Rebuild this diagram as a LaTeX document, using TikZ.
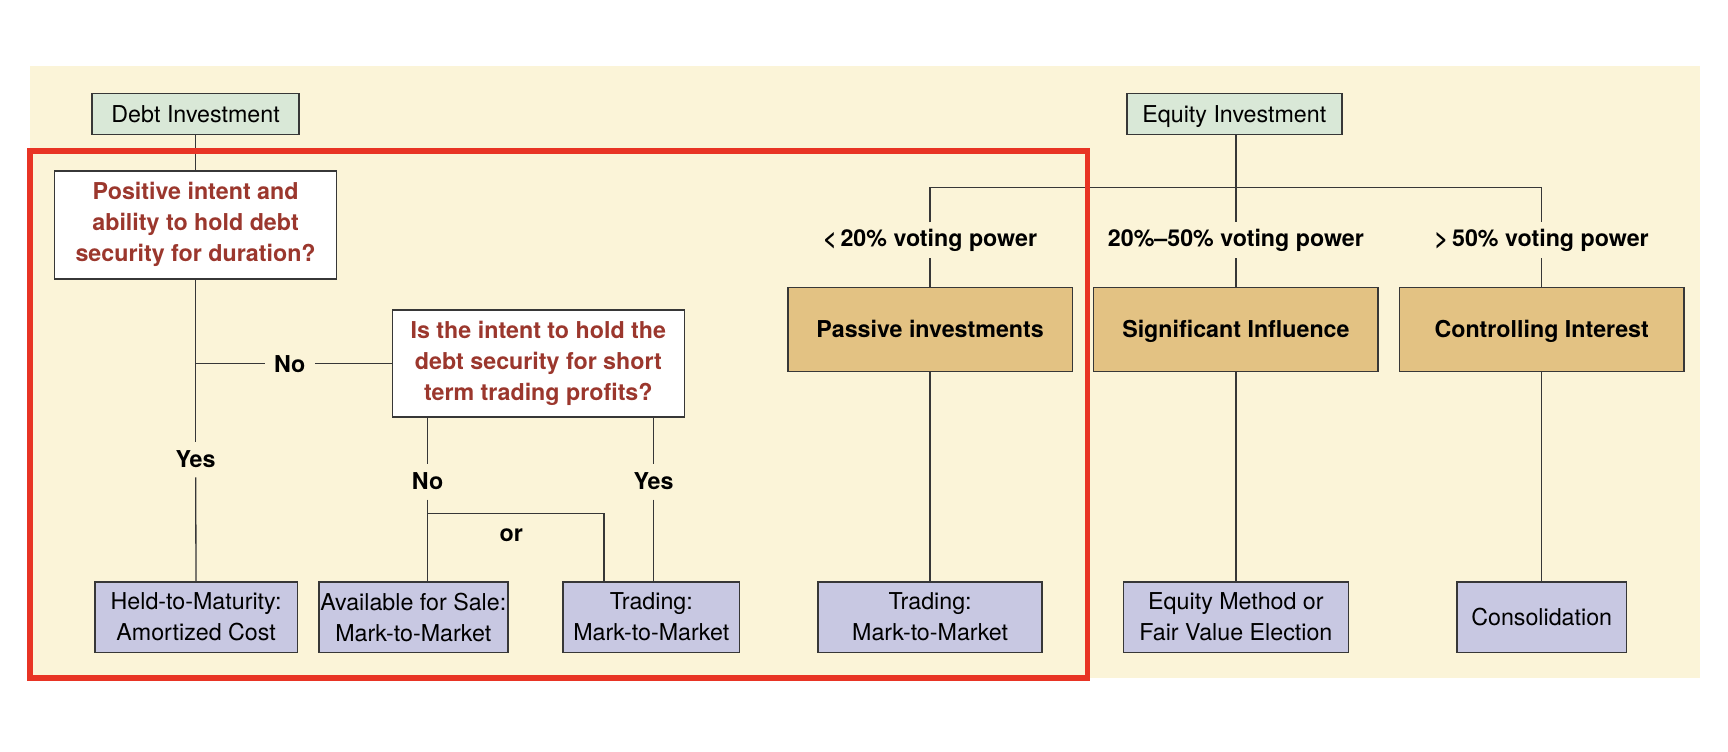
\documentclass[tikz,border=0pt]{standalone}
\usepackage{fontspec}
\setmainfont{TeX Gyre Heros}
\usetikzlibrary{positioning}
\definecolor{colBg}{RGB}{251,244,216}
\definecolor{colStart}{RGB}{217,232,215}
\definecolor{colCat}{RGB}{227,194,131}
\definecolor{colOut}{RGB}{200,200,226}
\definecolor{colQuest}{RGB}{155,55,45}
\definecolor{colFrame}{RGB}{232,52,36}
\definecolor{colEdge}{RGB}{55,55,55}
\newcommand{\boxfont}{\fontsize{15}{20}\selectfont}

\begin{document}
\begin{tikzpicture}[
            x=0.025cm, y=-0.025cm,
            font=\boxfont,
            box/.style={rectangle, draw=colEdge, line width=1pt, align=center, inner xsep=1pt, inner ysep=0pt},
            start/.style={box, fill=colStart, minimum height=0.925cm, text height=12pt, text depth=1.5pt},
            quest/.style={box, fill=white, text=colQuest, font=\boxfont\bfseries},
            cat/.style={box, fill=colCat, font=\boxfont\bfseries, minimum width=6.45cm, minimum height=1.9cm, text height=12pt, text depth=1.5pt},
            outcome/.style={box, fill=colOut, minimum height=1.6cm},
            lbl/.style={font=\boxfont\bfseries, inner sep=0pt, minimum height=0.8cm},
            link/.style={draw=colEdge, line width=0.85pt}
        ]

        \useasboundingbox (0,0) rectangle (1568,682);
        \fill[colBg] (27,60) rectangle (1543,615);

        %% ── DEBT : questions ─────────────────────────────
        \node[start, minimum width=4.7cm] (debt) at (177.5,103.5) {Debt Investment};
        \node[quest, minimum width=6.4cm, minimum height=2.45cm] (q1) at (177.5,204)
            {Positive intent and\\ability to hold debt\\security for duration?};
        \node[quest, minimum width=6.625cm, minimum height=2.425cm] (q2) at (488.5,330)
            {Is the intent to hold the\\debt security for short\\term trading profits?};

        \node[lbl, minimum width=1.12cm] (no1) at (263,330) {No};
        \coordinate (split) at (q1 |- no1);
        \node[lbl] (yes1) at (177.5,417) {Yes};
        \node[lbl] (no2) at (388,437) {No};
        \node[lbl] (yes2) at (593,437) {Yes};
        \node[lbl] (or) at (464,486) {or};

        %% ── DEBT : outcomes ──────────────────────────────
        \node[outcome, minimum width=4.6cm] (htm) at (178,560) {Held-to-Maturity:\\Amortized Cost};
        \node[outcome, minimum width=4.15cm] (afs) at (375,560) {Available for Sale:\\Mark-to-Market};
        \node[outcome, minimum width=4cm] (trd) at (591,560) {Trading:\\Mark-to-Market};

        %% ── EQUITY ───────────────────────────────────────
        \node[start, minimum width=4.875cm] (equity) at (1120,103.5) {Equity Investment};
        \node[cat] (passive) at (844,299) {Passive investments};
        \node[cat, right=0.45cm of passive] (sig) {Significant Influence};
        \node[cat, right=0.45cm of sig] (ctrl) {Controlling Interest};

        \coordinate (lvl) at (0,218);
        \coordinate (bar) at (0,170);
        \node[lbl] (lt20) at (passive |- lvl) {<\,20\% voting power};
        \node[lbl] (mid) at (sig |- lvl) {20\%--50\% voting power};
        \node[lbl] (gt50) at (ctrl |- lvl) {>\,50\% voting power};

        \node[outcome, minimum width=5.075cm] (trd2) at (passive |- htm) {Trading:\\Mark-to-Market};
        \node[outcome, minimum width=5.1cm] (eqm) at (sig |- htm) {Equity Method or\\Fair Value Election};
        \node[outcome, minimum width=3.85cm] (cons) at (ctrl |- htm) {Consolidation};

        %% ── CONNECTORS ───────────────────────────────────
        \draw[link] (debt) -- (q1);
        \draw[link] (q1) -- (yes1);
        \draw[link] (yes1) -- (htm);
        \draw[link] (split) -- (no1) -- (q2);

        \draw[link] (q2.south -| no2) -- (no2) -- (no2 |- afs.north);
        \draw[link] (q2.south -| yes2) -- (yes2) -- (yes2 |- trd.north);
        \coordinate (orjoin) at (388,466);
        \coordinate (ortop) at (548,466);
        \draw[link] (orjoin) -- (ortop) -- (ortop |- trd.north);

        \draw[link] (equity.south -| mid) -- (mid);
        \draw[link] (lt20) -- (lt20 |- bar) -- (gt50 |- bar) -- (gt50);
        \draw[link] (lt20) -- (passive);
        \draw[link] (mid) -- (sig);
        \draw[link] (gt50) -- (ctrl);
        \draw[link] (passive) -- (trd2);
        \draw[link] (sig) -- (eqm);
        \draw[link] (ctrl) -- (cons);

        %% ── RED FRAME ────────────────────────────────────
        \draw[colFrame, line width=0.125cm] (27,137) rectangle (987,615);

\end{tikzpicture}
\end{document}
